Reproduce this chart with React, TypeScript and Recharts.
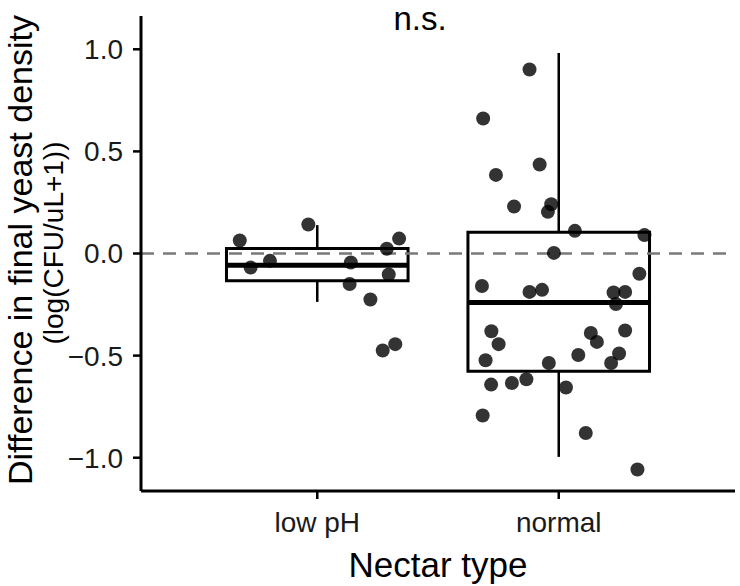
import {
  ComposedChart,
  Scatter,
  XAxis,
  YAxis,
  ReferenceLine,
  ReferenceArea,
  Customized,
} from "recharts";

const categories = ["low pH", "normal"];
const categoryTicks = [1, 2];
const yTicks = [-1, -0.5, 0, 0.5, 1];

// box summaries per category (same order as categories)
const boxQ1 = [-0.134, -0.576];
const boxMedian = [-0.057, -0.24];
const boxQ3 = [0.024, 0.104];
const whiskerLow = [-0.237, -0.996];
const whiskerHigh = [0.139, 0.982];

// jittered points, low pH
const lowPhX = [0.679, 0.724, 0.804, 0.963, 1.139, 1.134, 1.22, 1.288, 1.339, 1.296, 1.271, 1.323];
const lowPhY = [0.064, -0.069, -0.036, 0.142, -0.044, -0.149, -0.225, 0.023, 0.073, -0.103, -0.475, -0.444];

// jittered points, normal
const normalX = [
  1.879, 1.687, 1.921, 1.74, 1.815, 1.969, 1.955, 2.067, 2.355, 1.98, 2.334, 1.682,
  1.879, 1.931, 2.227, 2.275, 2.237, 1.721, 1.751, 1.697, 1.959, 2.081, 2.133, 2.158,
  2.275, 2.25, 2.217, 1.72, 1.806, 1.866, 2.03, 1.685, 2.112, 2.326,
];
const normalY = [
  0.901, 0.661, 0.436, 0.385, 0.23, 0.241, 0.204, 0.111, 0.09, 0.003, -0.099, -0.159,
  -0.188, -0.178, -0.191, -0.188, -0.247, -0.381, -0.444, -0.523, -0.536, -0.497, -0.389, -0.433,
  -0.377, -0.49, -0.536, -0.642, -0.634, -0.616, -0.656, -0.793, -0.879, -1.058,
];

const lowPhPoints = lowPhX.map((x, i) => ({ x, y: lowPhY[i] }));
const normalPoints = normalX.map((x, i) => ({ x, y: normalY[i] }));

const FONT = "'Liberation Sans', Arial, Helvetica, sans-serif";
const BOX_HALF = 0.376;

const dot = (p: any) => (
  <circle cx={p.cx} cy={p.cy} r={7} fill="#000" fillOpacity={0.8} />
);

const fmt = (v: number) => (v < 0 ? "\u2212" : "") + Math.abs(v).toFixed(1);

const yTitle = () => (
  <g fontFamily={FONT} fill="#000">
    <text x={32} y={250} transform="rotate(-90 32 250)" textAnchor="middle" fontSize={34}>
      Difference in final yeast density
    </text>
    <text x={63} y={243} transform="rotate(-90 63 243)" textAnchor="middle" fontSize={28}>
      (log(CFU/uL+1))
    </text>
  </g>
);

const xTitle = () => (
  <text x={438} y={577} textAnchor="middle" fontSize={35} fontFamily={FONT} fill="#000">
    Nectar type
  </text>
);

export default function App() {
  return (
    <div>
      <style>{"body{margin:0}"}</style>
      <ComposedChart width={740} height={586} margin={{ top: 16, right: 5, bottom: 0, left: 0 }}>
        <XAxis
          type="number"
          dataKey="x"
          domain={[0.27, 2.73]}
          ticks={categoryTicks}
          tickFormatter={(v) => categories[v - 1]}
          allowDataOverflow
          height={95}
          axisLine={{ stroke: "#000", strokeWidth: 3 }}
          tickLine={{ stroke: "#000", strokeWidth: 2.5 }}
          tickSize={8}
          tickMargin={13}
          tick={{ fill: "#1a1a1a", fontSize: 28, fontFamily: FONT }}
          label={xTitle}
        />
        <YAxis
          type="number"
          dataKey="y"
          domain={[-1.163, 1.163]}
          ticks={yTicks}
          tickFormatter={fmt}
          allowDataOverflow
          width={141}
          axisLine={{ stroke: "#000", strokeWidth: 3 }}
          tickLine={{ stroke: "#000", strokeWidth: 2.5 }}
          tickSize={8}
          tickMargin={10}
          tick={{ fill: "#1a1a1a", fontSize: 28, fontFamily: FONT }}
          label={yTitle}
        />
        {categoryTicks.map((c, i) => (
          <ReferenceLine
            key={"wh" + i}
            segment={[{ x: c, y: boxQ3[i] }, { x: c, y: whiskerHigh[i] }]}
            stroke="#000"
            strokeWidth={2.5}
          />
        ))}
        {categoryTicks.map((c, i) => (
          <ReferenceLine
            key={"wl" + i}
            segment={[{ x: c, y: boxQ1[i] }, { x: c, y: whiskerLow[i] }]}
            stroke="#000"
            strokeWidth={2.5}
          />
        ))}
        {categoryTicks.map((c, i) => (
          <ReferenceArea
            key={"box" + i}
            x1={c - BOX_HALF}
            x2={c + BOX_HALF}
            y1={boxQ1[i]}
            y2={boxQ3[i]}
            fill="none"
            fillOpacity={0}
            stroke="#000"
            strokeWidth={3}
          />
        ))}
        {categoryTicks.map((c, i) => (
          <ReferenceLine
            key={"med" + i}
            segment={[{ x: c - BOX_HALF, y: boxMedian[i] }, { x: c + BOX_HALF, y: boxMedian[i] }]}
            stroke="#000"
            strokeWidth={5}
          />
        ))}
        <Scatter data={lowPhPoints} shape={dot} isAnimationActive={false} />
        <Scatter data={normalPoints} shape={dot} isAnimationActive={false} />
        <ReferenceLine y={0} stroke="#7a7a7a" strokeWidth={2.5} strokeDasharray="13 9" />
        <Customized
          component={() => (
            <text x={420} y={30} textAnchor="middle" fontSize={33} fontFamily={FONT} fill="#000">
              n.s.
            </text>
          )}
        />
      </ComposedChart>
    </div>
  );
}
